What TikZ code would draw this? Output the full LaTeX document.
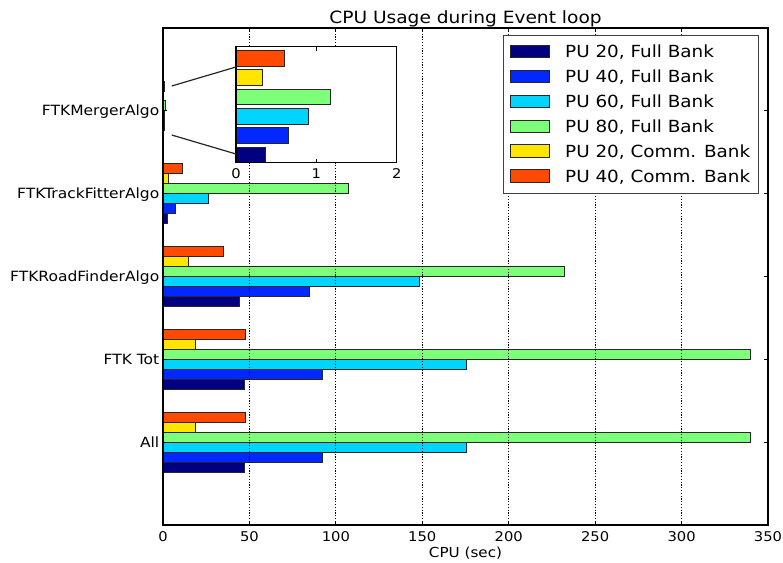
\documentclass[tikz,border=0pt]{standalone}
\usepackage{fontspec}
\setmainfont{DejaVu Sans}
\usepackage{graphicx}
\definecolor{c0}{HTML}{000080}
\definecolor{c1}{HTML}{0028FF}
\definecolor{c2}{HTML}{00D4FF}
\definecolor{c3}{HTML}{7DFF7A}
\definecolor{c4}{HTML}{FFE500}
\definecolor{c5}{HTML}{FF4A00}
\newcommand\sx[1]{\scalebox{1.1}[1]{#1}}
\begin{document}
\begin{tikzpicture}[x=1pt,y=-1pt,
  barbox/.style={draw=black!85, line width=0.9pt},
  gridline/.style={line width=0.9pt, dash pattern=on 1.1pt off 1.7pt},
  frame/.style={line width=1.1pt, draw=black},
  tickmark/.style={line width=0.8pt},
  ticklab/.style={font=\fontsize{13.4}{15}\selectfont, anchor=base, inner sep=0pt},
  catlab/.style={font=\fontsize{14.1}{16}\selectfont, anchor=base east, inner sep=0pt},
  leglab/.style={font=\fontsize{16.7}{19}\selectfont, anchor=base west, inner sep=0pt},
  titlelab/.style={font=\fontsize{16.9}{19}\selectfont, anchor=base, inner sep=0pt},
  zoomline/.style={line width=1.2pt, draw=black!85}]
\useasboundingbox (0,0) rectangle (783,562);
% bars
\foreach \i/\vals in {0/{47,92,175.5,339.7,18.5,47.5},
                      1/{47,92,175.5,339.7,18.5,47.5},
                      2/{44.5,84.6,148.5,232,15,35},
                      3/{2.5,7,26.4,107.2,3,11.4},
                      4/{0.37,0.65,0.9,1.17,0.33,0.6}}{
  \foreach \v [count=\k from 0] in \vals {
    \pgfmathsetmacro\yb{525-(\i+1)*82.83+29.82-9.94*\k}
    \pgfmathsetmacro\yt{\yb-9.94}
    \pgfmathsetmacro\xe{163+\v*1.72857}
    \draw[barbox, fill=c\k] (163,\yb) rectangle (\xe,\yt);
  }
}
% grid
\foreach \t in {0,50,...,350}{
  \pgfmathsetmacro\xx{163+\t*1.72857}
  \draw[gridline] (\xx,28) -- (\xx,525);
}
% frame
\draw[frame] (163,28) rectangle (768,525);
% x ticks and labels
\foreach \t in {0,50,...,350}{
  \pgfmathsetmacro\xx{163+\t*1.72857}
  \draw[tickmark] (\xx,28) -- (\xx,32);
  \draw[tickmark] (\xx,525) -- (\xx,521);
  \node[ticklab] (xt\t) at (\xx,541) {\sx{\t}};
}
% y ticks and labels
\foreach \i/\lab in {0/All,1/FTK Tot,2/FTKRoadFinderAlgo,3/FTKTrackFitterAlgo,4/FTKMergerAlgo}{
  \pgfmathsetmacro\yc{525-(\i+1)*82.83}
  \draw[tickmark] (163,\yc) -- (167,\yc);
  \draw[tickmark] (768,\yc) -- (764,\yc);
  \node[catlab] (cat\i) at (159.5,\yc+5) {\sx{\lab}};
}
\node[titlelab] (title) at (465.5,23.3) {\sx{CPU Usage during Event loop}};
\node[ticklab, font=\fontsize{13.8}{15}\selectfont] (xlabel) at (465.5,557) {\sx{CPU (sec)}};
% inset
\draw[fill=white, line width=1pt] (236,46.7) rectangle (396.7,162.7);
\foreach \v [count=\k from 0] in {0.37,0.65,0.9,1.17,0.33,0.6}{
  \pgfmathsetmacro\yb{162.7-19.33*\k}
  \pgfmathsetmacro\yt{\yb-15.47}
  \pgfmathsetmacro\xe{236+\v*80.35}
  \draw[barbox, fill=c\k] (236,\yb) rectangle (\xe,\yt);
}
\draw[line width=1.1pt] (236,46.7) rectangle (396.7,162.7);
\foreach \t in {0,1,2}{
  \pgfmathsetmacro\xx{236+\t*80.35}
  \draw[tickmark] (\xx,46.7) -- (\xx,50.7);
  \draw[tickmark] (\xx,162.7) -- (\xx,158.7);
  \node[ticklab] (it\t) at (\xx,178.5) {\sx{\t}};
}
\coordinate (m1) at (171.7,86);
\coordinate (i1) at (236,67);
\coordinate (m2) at (171.7,135);
\coordinate (i2) at (236,154);
\draw[zoomline] (m1) -- (i1);
\draw[zoomline] (m2) -- (i2);
% legend
\draw[fill=white, draw=black!75, line width=1.1pt] (503.3,35.7) rectangle (758.3,193.3);
\foreach \lab [count=\k from 0] in {{PU 20, Full Bank},{PU 40, Full Bank},{PU 60, Full Bank},{PU 80, Full Bank},{PU 20, Comm. Bank},{PU 40, Comm. Bank}}{
  \pgfmathsetmacro\yc{51.7+24.86*\k}
  \draw[barbox, fill=c\k] (510.7,\yc-6.2) rectangle (549.3,\yc+6.2);
  \node[leglab] (leg\k) at (565,\yc+6) {\sx{\lab}};
}
\end{tikzpicture}
\end{document}
